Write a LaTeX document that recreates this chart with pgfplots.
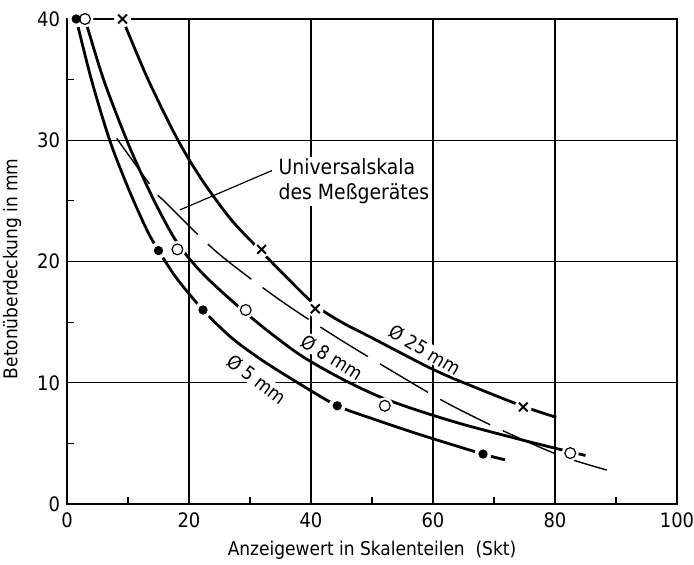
\documentclass[border=0pt]{standalone}
\usepackage{fontspec}
\setmainfont{DejaVu Sans Condensed}
\usepackage{pgfplots}
\pgfplotsset{compat=1.18}
\begin{document}
\begin{tikzpicture}
\begin{axis}[
  at={(0,0)}, anchor=south west,
  scale only axis, width=305bp, height=242.5bp,
  xmin=0, xmax=100, ymin=0, ymax=40,
  xtick={0,20,...,100}, ytick={0,10,...,40},
  minor xtick={10,30,50,70,90}, minor ytick={5,15,25,35},
  xtick pos=bottom, ytick pos=left, tick align=inside,
  grid=major, major grid style={line width=0.55pt, black},
  major tick length=0pt, minor tick length=3.5bp,
  minor tick style={line width=0.6pt, black},
  axis line style={line width=0.8pt},
  tick label style={font=\fontsize{10}{12}\selectfont},
  /pgf/number format/assume math mode=true,
  xticklabel style={yshift=-1bp},
  xlabel={Anzeigewert in Skalenteilen\ \ (Skt)},
  ylabel={Betonüberdeckung in mm},
  label style={font=\fontsize{9.5}{11}\selectfont},
  xlabel style={at={(axis description cs:0.5,-0.095)}, anchor=center},
  ylabel style={at={(axis description cs:-0.09,0.485)}, anchor=center, rotate=0},
  clip=false,
]
% curve for diameter 5 mm
\addplot[line width=1.4pt, smooth, tension=0.5] coordinates {
 (1.5,40) (4,35) (7,30) (10,26.1) (13,22.7) (15,20.9) (18,18.6) (22.3,16.0) (27,13.7)
 (32,11.85) (38,9.95) (44.3,8.1) (50,7.05) (58,5.7) (68.2,4.12) (71.8,3.65)};
% curve for diameter 8 mm
\addplot[line width=1.4pt, smooth, tension=0.5] coordinates {
 (2.95,40) (6,35) (9.8,30) (12.5,26.9) (15,24.3) (18,21.6) (21.5,19.4) (25.6,17.4) (31.6,14.8)
 (38.2,12.3) (44.75,10.4) (51,8.9) (57,7.8) (64,6.7) (71,5.75) (78,4.85) (85,4.0)};
% curve for diameter 25 mm
\addplot[line width=1.4pt, smooth, tension=0.5] coordinates {
 (9.1,40) (13.3,35) (18.2,30) (22.3,26.6) (27,23.4) (31.9,20.8) (36,18.7) (40.7,16.4) (45,15.0)
 (50,13.7) (60,11.1) (67,9.6) (74.8,8.05) (80.2,7.15)};
% Universalskala (dashed)
\addplot[line width=0.7pt, smooth, tension=0.5, dash pattern=on 28bp off 7bp] coordinates {
 (8.15,30.15) (14.4,25.8) (16.1,24.9) (24.5,20.8) (34.4,17.0) (43.7,13.9) (53.5,10.9)
 (62.2,8.35) (71.0,6.15) (80.8,4.0) (88.5,2.8)};
% white halos around markers
\addplot[only marks, mark=*, mark size=4bp, draw=white, fill=white] coordinates {
 (1.5,40) (15.0,20.9) (22.3,16.0) (44.3,8.1) (68.2,4.12)
 (2.95,40) (18.1,21.0) (29.3,16.0) (52.1,8.1) (82.5,4.2)
 (9.1,40) (31.9,21.0) (40.7,16.1) (74.8,8.0)};
% markers
\addplot[only marks, mark=*, mark size=2.1bp, black] coordinates {
 (1.5,40) (15.0,20.9) (22.3,16.0) (44.3,8.1) (68.2,4.12)};
\addplot[only marks, mark=o, mark size=2.7bp, mark options={line width=0.6pt, fill=white}, black] coordinates {
 (2.95,40) (18.1,21.0) (29.3,16.0) (52.1,8.1) (82.5,4.2)};
\addplot[only marks, mark=x, mark size=3.1bp, mark options={line width=1pt}, black] coordinates {
 (9.1,40) (31.9,21.0) (40.7,16.1) (74.8,8.0)};
% labels
\draw[line width=0.6pt] (axis cs:18.5,24.25) -- (axis cs:33.6,27.5);
\node[anchor=west, align=left, fill=white, inner sep=1bp, font=\fontsize{10.5}{12.5}\selectfont]
  at (axis cs:34.3,26.6) {Universalskala\\des Meßgerätes};
\node[rotate=-37, fill=white, inner sep=0.5bp, font=\fontsize{9.5}{11}\selectfont] at (axis cs:31.1,10.3) {Ø 5 mm};
\node[rotate=-32, fill=white, inner sep=0.5bp, font=\fontsize{9.5}{11}\selectfont] at (axis cs:43.5,12.1) {Ø 8 mm};
\node[rotate=-31, fill=white, inner sep=0.5bp, font=\fontsize{9.5}{11}\selectfont] at (axis cs:58.7,12.7) {Ø 25 mm};
\end{axis}
\pgfresetboundingbox
\path (-33.5bp,-30.5bp) rectangle (313.5bp,252bp);
\end{tikzpicture}
\end{document}
